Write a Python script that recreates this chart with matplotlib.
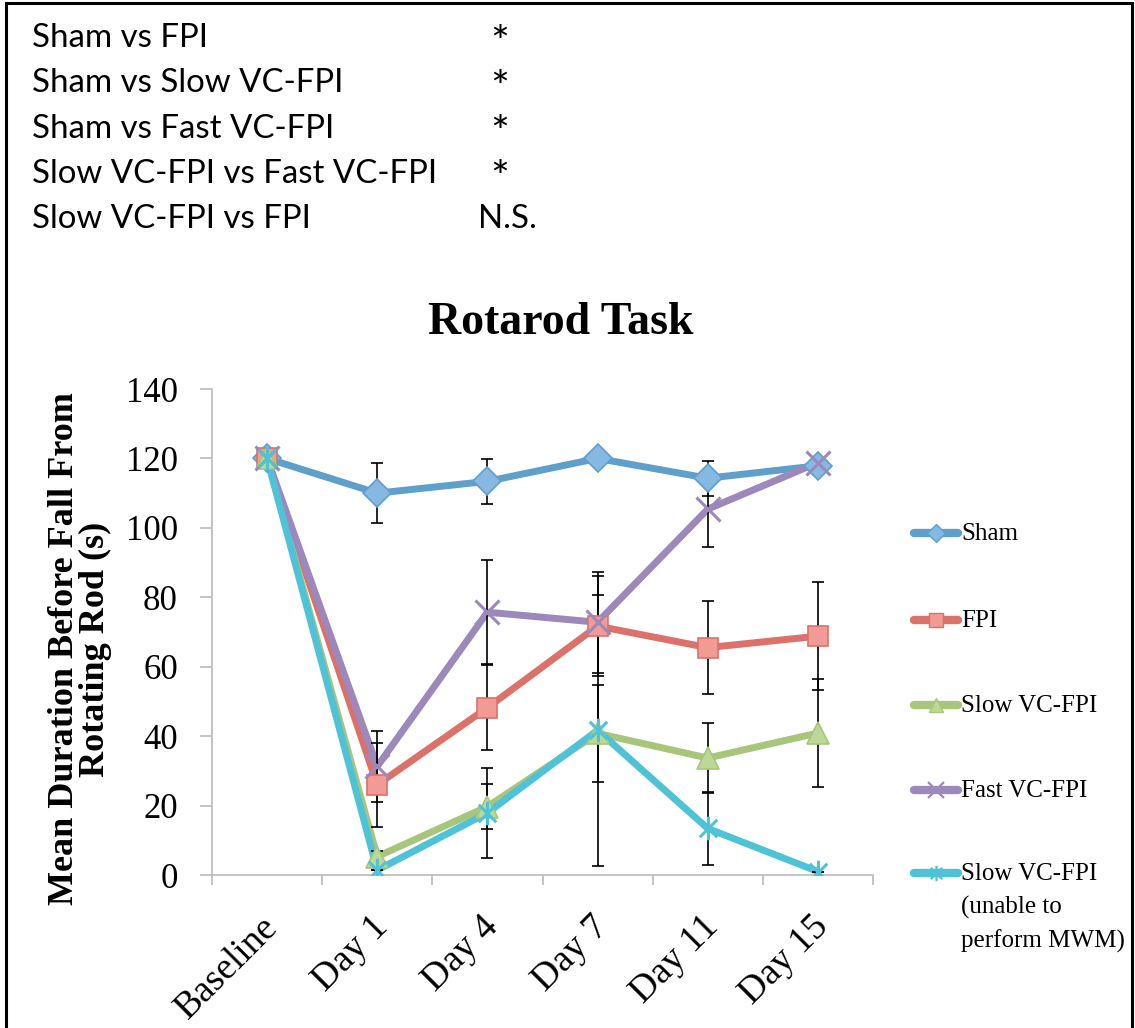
import numpy as np
import matplotlib
matplotlib.use("Agg")
import matplotlib.pyplot as plt
from matplotlib.lines import Line2D
from matplotlib.path import Path
from matplotlib.patches import Rectangle
import matplotlib.transforms as mtransforms

# ---------------- data ----------------
days = ["Baseline", "Day 1", "Day 4", "Day 7", "Day 11", "Day 15"]

sham = [120, 110.0, 113.4, 120, 114.3, 117.9]
sham_err = [0, 8.7, 6.5, 0, 5.0, 1.0]

fpi = [120, 26.0, 48.2, 71.7, 65.5, 68.8]
fpi_err = [0, 12.1, 12.3, 14.3, 13.4, 15.5]

slow = [120, 5.3, 19.7, 40.8, 33.7, 40.9]
slow_err = [0, 1.5, 6.5, 13.9, 10.1, 15.6]

fast = [120, 31.3, 75.7, 72.8, 105.4, 118.8]
fast_err = [0, 10.3, 15.0, 14.5, 11.0, 1.0]

slow_mwm = [120, 1.4, 17.9, 41.7, 13.4, 1.0]
slow_mwm_err = [0, 0, 13.0, 39.1, 10.5, 0]

comparisons = ["Sham vs FPI", "Sham vs Slow VC-FPI", "Sham vs Fast VC-FPI",
               "Slow VC-FPI vs Fast VC-FPI", "Slow VC-FPI vs FPI"]
significance = ["*", "*", "*", "*", "N.S."]

names = ["Sham", "FPI", "Slow VC-FPI", "Fast VC-FPI",
         "Slow VC-FPI\n(unable to\nperform MWM)"]

# ---------------- styles ----------------
W, H = 1135, 1028
serif = "Liberation Serif"

# excel style asterisk: an x with a vertical bar through it
star = Path([(-1, -1), (1, 1), (-1, 1), (1, -1), (0, -1.35), (0, 1.35)],
            [Path.MOVETO, Path.LINETO, Path.MOVETO, Path.LINETO,
             Path.MOVETO, Path.LINETO])

series = [
    (sham, sham_err, "#5e9fcc", "#86b9e2", "D", 14, True),
    (fpi, fpi_err, "#dc716a", "#f19b94", "s", 15, True),
    (slow, slow_err, "#a8c67b", "#bcd896", "^", 16, True),
    (fast, fast_err, "#9d88bb", "#9d88bb", "x", 17, False),
    (slow_mwm, slow_mwm_err, "#4ec3d7", "#4ec3d7", star, 17, False),
]

fig = plt.figure(figsize=(W / 100, H / 100), dpi=100)
ax = fig.add_axes([212 / W, 1 - 875 / H, 661 / W, 486 / H])

x = np.arange(len(days))

# lines first, error bars on top, then markers
for vals, err, col, fill, mk, ms, filled in series:
    ax.plot(x, vals, color=col, lw=5, solid_capstyle="round", zorder=2)
for vals, err, col, fill, mk, ms, filled in series:
    ax.errorbar(x, vals, yerr=err, fmt="none", ecolor="black", elinewidth=1.2,
                capsize=4.6, capthick=1.2, zorder=3)
for vals, err, col, fill, mk, ms, filled in series:
    if filled:
        ax.plot(x, vals, ls="none", marker=mk, ms=ms, mfc=fill, mec=col,
                mew=1.2, zorder=4)
    else:
        ax.plot(x, vals, ls="none", marker=mk, ms=ms, mfc="none", mec=col,
                mew=2.2, zorder=4)

ax.set_xlim(-0.5, 5.5)
ax.set_ylim(0, 140)
ax.set_yticks(range(0, 141, 20))

# category boundaries as ticks, labels centred under each category
ax.set_xticks(np.arange(-0.5, 6, 1))
ax.set_xticklabels([])
ax.set_xticks(x, days, minor=True)
ax.tick_params(axis="x", which="major", length=7, width=1.3, color="#bfbfbf",
               direction="out")
ax.tick_params(axis="x", which="minor", length=0, pad=4)
ax.tick_params(axis="y", length=8.6, width=1.3, color="#bfbfbf", pad=16,
               labelsize=25)

for lab in ax.get_yticklabels():
    lab.set_fontfamily(serif)

offset = mtransforms.ScaledTranslation(-7 / 100, -29 / 100, fig.dpi_scale_trans)
for lab in ax.get_xticklabels(minor=True):
    lab.set_fontfamily(serif)
    lab.set_fontsize(27)
    lab.set_rotation(45)
    lab.set_ha("right")
    lab.set_va("top")
    lab.set_rotation_mode("anchor")
    lab.set_transform(lab.get_transform() + offset)

for side in ["top", "right"]:
    ax.spines[side].set_visible(False)
for side in ["left", "bottom"]:
    ax.spines[side].set_color("#bfbfbf")
    ax.spines[side].set_linewidth(1.3)

ax.set_ylabel("Mean Duration Before Fall From\nRotating Rod (s)",
              fontfamily=serif, fontweight="bold", fontsize=26, linespacing=0.92)
ax.yaxis.set_label_coords(-0.151, 0.465)

fig.text(561 / W, 1 - 323 / H, "Rotarod Task", fontfamily=serif,
         fontweight="bold", fontsize=33, ha="center", va="center")

# legend, drawn by hand so the wrapped label keeps its line beside the first row
leg_y = [533, 620, 705, 790, 873]
for (vals, err, col, fill, mk, ms, filled), name, yy in zip(series, names, leg_y):
    yf = 1 - yy / H
    fig.add_artist(Line2D([914 / W, 936 / W, 958 / W], [yf, yf, yf], color=col,
                          lw=6, solid_capstyle="round",
                          marker=mk, markevery=[1], ms=ms * 0.65,
                          mfc=fill if filled else "none", mec=col,
                          mew=1.0 if filled else 1.6))
    fig.text(961 / W, yf + 10 / H, name, fontfamily=serif, fontsize=18,
             ha="left", va="top", linespacing=1.6)

# significance table above the chart
for i, (comp, sig) in enumerate(zip(comparisons, significance)):
    yf = 1 - (38 + 45.3 * i) / H
    fig.text(32 / W, yf, comp, fontfamily="Lato", fontsize=23.8, va="center")
    if sig == "*":
        fig.text(490 / W, yf - 6 / H, sig, fontfamily="Lato", fontsize=32,
                 va="center")
    else:
        fig.text(478 / W, yf, sig, fontfamily="Lato", fontsize=23.8,
                 va="center")

# outer frame
fig.add_artist(Rectangle((5.5 / W, -0.05), 1126.5 / W, 1.05 - 2.5 / H,
                         transform=fig.transFigure, fill=False,
                         edgecolor="black", lw=2.2))

fig.savefig("out.png", dpi=100)
